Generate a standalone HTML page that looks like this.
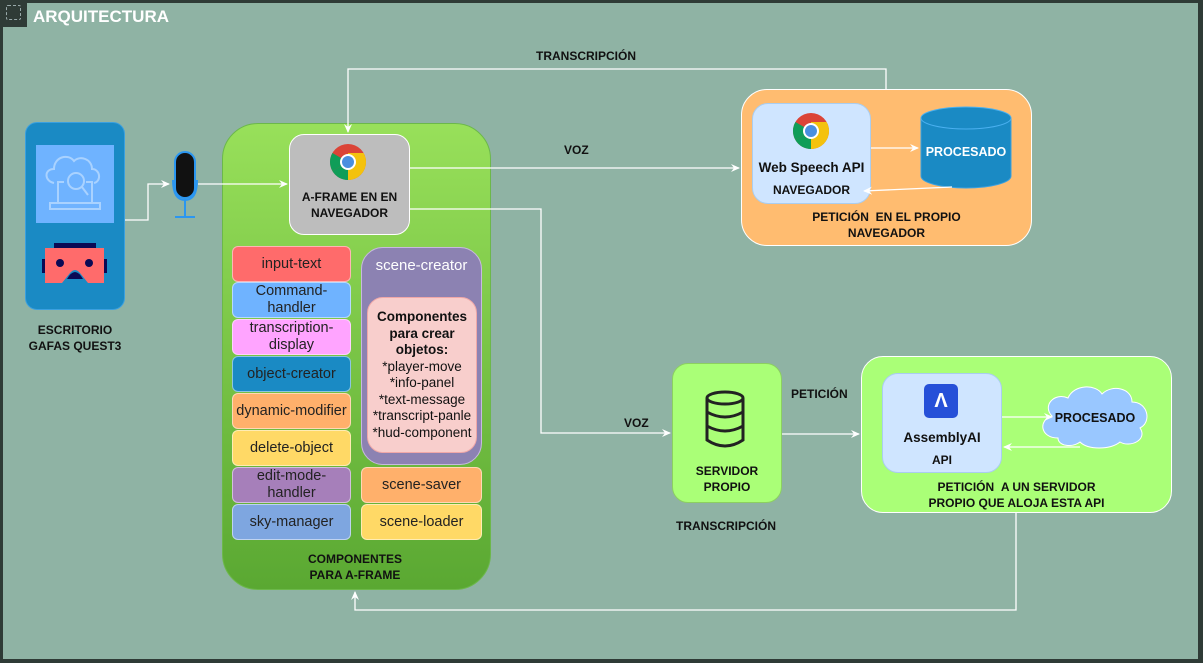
<!DOCTYPE html>
<html><head><meta charset="utf-8"><style>
body{margin:0;width:1203px;height:663px;overflow:hidden;background:#2f3b36;font-family:"Liberation Sans",sans-serif}
#f{position:absolute;left:3px;top:3px;width:1195px;height:656px;background:#8fb3a4}
.a{position:absolute;box-sizing:border-box}
.c{display:flex;align-items:center;justify-content:center;text-align:center}
.it{position:absolute;left:232px;width:119px;height:36px;border-radius:6px;border:1px solid rgba(255,255,255,.5);font-size:14.5px;color:#222;line-height:17px;display:flex;align-items:center;justify-content:center;text-align:center;box-sizing:border-box}
.b{font-weight:bold;font-size:12px;color:#111}
</style></head><body>
<div id="f"></div>
<div class="a" style="left:0;top:0;width:27px;height:27px;background:#2f3b36"></div>
<div class="a" style="left:6px;top:5px;width:15px;height:15px;border:1.5px dashed #9aa;border-radius:2px"></div>
<div class="a" style="left:33px;top:7px;color:#fff;font-weight:bold;font-size:17px">ARQUITECTURA</div>

<!-- left device -->
<div class="a" style="left:25px;top:122px;width:100px;height:188px;background:#1a8ac4;border-radius:12px;border:1px solid #3aa0e0"></div>
<div class="a" style="left:36px;top:145px;width:78px;height:78px;background:#6fb3ff"></div>
<svg class="a" style="left:36px;top:145px" width="78" height="78"><g fill="none" stroke="#a9d2ff" stroke-width="2"><path d="M18 38 C8 36 8 24 18 24 C18 12 32 8 38 16 C44 10 56 14 56 24 C64 24 66 36 58 38"/><path d="M22 58 V37 H28 M50 37 H56 V58"/><circle cx="40" cy="36" r="8"/><path d="M46 42 L52 50"/><rect x="14" y="58" width="50" height="6"/></g></svg>
<svg class="a" style="left:40px;top:243px" width="70" height="45"><rect x="14" y="0" width="42" height="6" fill="#0a0a55"/><rect x="2" y="16" width="4" height="14" fill="#0a0a55"/><rect x="63" y="16" width="4" height="14" fill="#0a0a55"/><path d="M5 5 H64 V40 H48 L40 30 Q35 24 30 30 L22 40 H5Z" fill="#ff6b6b"/><circle cx="20" cy="20" r="4" fill="#0a0a55"/><circle cx="49" cy="20" r="4" fill="#0a0a55"/><path d="M27 36 Q35 22 43 36Z" fill="#0a0a55"/></svg>
<div class="a b c" style="left:5px;top:322px;width:140px;line-height:16px">ESCRITORIO<br>GAFAS QUEST3</div>

<!-- mic -->
<svg class="a" style="left:168px;top:150px" width="34" height="70"><path d="M5 30 Q5 50 17 50 Q29 50 29 30" fill="none" stroke="#2b96f0" stroke-width="2"/><rect x="7" y="2" width="20" height="46" rx="10" fill="#111" stroke="#2b96f0" stroke-width="2"/><path d="M17 50 V66 M7 67 H27" stroke="#2b96f0" stroke-width="2"/></svg>

<!-- green -->
<div class="a" style="left:222px;top:123px;width:269px;height:467px;border-radius:36px;background:linear-gradient(#98e05a,#5aa832);border:1px solid #6cb84a"></div>
<div class="a c" style="left:289px;top:134px;width:121px;height:101px;background:#bdbdbd;border:1.5px solid #fff;border-radius:15px;flex-direction:column;padding-top:40px"><div class="b" style="line-height:16px">A-FRAME EN EN<br>NAVEGADOR</div></div>
<div class="it" style="top:246px;background:#ff6b6b">input-text</div>
<div class="it" style="top:282px;background:#6fb3ff">Command-<br>handler</div>
<div class="it" style="top:319px;background:#ffa4ff">transcription-<br>display</div>
<div class="it" style="top:356px;background:#1a8ac4">object-creator</div>
<div class="it" style="top:393px;background:#ffb06b">dynamic-modifier</div>
<div class="it" style="top:430px;background:#ffd966">delete-object</div>
<div class="it" style="top:467px;background:#a67fba">edit-mode-<br>handler</div>
<div class="it" style="top:504px;background:#7ea6e0">sky-manager</div>
<div class="a" style="left:361px;top:247px;width:121px;height:218px;background:#8c82b2;border-radius:22px;border:1px solid #c8b8e0"></div>
<div class="a" style="left:361px;top:257px;width:121px;text-align:center;color:#fff;font-size:15px">scene-creator</div>
<div class="a c" style="left:367px;top:297px;width:110px;height:156px;background:#f8cecc;border-radius:16px;border:1px solid #f0a8a8;font-size:13.5px;line-height:16.5px;color:#111;flex-direction:column"><b>Componentes<br>para crear<br>objetos:</b>*player-move<br>*info-panel<br>*text-message<br>*transcript-panle<br>*hud-component</div>
<div class="it" style="left:361px;width:121px;top:467px;background:#ffb06b">scene-saver</div>
<div class="it" style="left:361px;width:121px;top:504px;background:#ffd966">scene-loader</div>
<div class="a b c" style="left:285px;top:551px;width:140px;line-height:16px">COMPONENTES<br>PARA A-FRAME</div>

<!-- orange -->
<div class="a" style="left:741px;top:89px;width:291px;height:157px;background:#ffbc70;border:1.5px solid #fff;border-radius:26px"></div>
<div class="a" style="left:752px;top:103px;width:119px;height:101px;background:#cfe5ff;border:1px solid #a9cdf0;border-radius:16px"></div>
<div class="a" style="left:752px;top:160px;width:119px;text-align:center;font-weight:bold;font-size:13.5px;color:#111">Web Speech API</div>
<div class="a b" style="left:752px;top:183px;width:119px;text-align:center">NAVEGADOR</div>
<div class="a b c" style="left:741px;top:209px;width:291px;line-height:16px">PETICIÓN &nbsp;EN EL PROPIO<br>NAVEGADOR</div>
<svg class="a" style="left:920px;top:106px" width="93" height="84"><path d="M1 12 V70 A45 12 0 0 0 91 70 V12" fill="#1a8ac4" stroke="#3aa0e0"/><ellipse cx="46" cy="12" rx="45" ry="11" fill="#1a8ac4" stroke="#4ab0f0"/><text x="46" y="50" text-anchor="middle" font-family="Liberation Sans" font-weight="bold" font-size="12.5" fill="#fff">PROCESADO</text></svg>

<!-- server -->
<div class="a" style="left:672px;top:363px;width:110px;height:140px;background:#aaff77;border:1px solid #8cd060;border-radius:16px"></div>
<svg class="a" style="left:703px;top:390px" width="44" height="60"><g fill="none" stroke="#222" stroke-width="3"><ellipse cx="22" cy="8" rx="18" ry="6"/><path d="M4 8 V50 Q22 62 40 50 V8 M4 22 Q22 32 40 22 M4 36 Q22 46 40 36"/></g></svg>
<div class="a b c" style="left:672px;top:463px;width:110px;line-height:16px">SERVIDOR<br>PROPIO</div>
<div class="a b" style="left:676px;top:519px">TRANSCRIPCIÓN</div>
<div class="a b" style="left:791px;top:387px">PETICIÓN</div>

<!-- assembly -->
<div class="a" style="left:861px;top:356px;width:311px;height:157px;background:#aaff77;border:1.5px solid #fff;border-radius:22px"></div>
<div class="a" style="left:882px;top:373px;width:120px;height:100px;background:#cfe5ff;border:1px solid #a9cdf0;border-radius:16px"></div>
<div class="a c" style="left:924px;top:384px;width:34px;height:34px;background:#2650d8;border-radius:5px;color:#fff;font-weight:bold;font-size:20px">Λ</div>
<div class="a" style="left:882px;top:430px;width:120px;text-align:center;font-weight:bold;font-size:13.5px;color:#111">AssemblyAI</div>
<div class="a b" style="left:882px;top:453px;width:120px;text-align:center">API</div>
<svg class="a" style="left:1036px;top:382px" width="118" height="68"><path d="M22 56 C4 56 2 38 16 34 C6 24 18 10 32 16 C38 2 60 2 66 12 C76 2 96 6 96 20 C112 20 116 40 104 46 C112 58 94 66 84 60 C74 68 52 68 44 60 C36 66 22 64 22 56Z" fill="#99c7ff" stroke="#fff" stroke-width="1"/><text x="59" y="40" text-anchor="middle" font-family="Liberation Sans" font-weight="bold" font-size="12.5" fill="#111">PROCESADO</text></svg>
<div class="a b c" style="left:861px;top:479px;width:311px;line-height:16px">PETICIÓN &nbsp;A UN SERVIDOR<br>PROPIO QUE ALOJA ESTA API</div>

<div class="a b" style="left:536px;top:49px">TRANSCRIPCIÓN</div>
<div class="a b" style="left:564px;top:143px">VOZ</div>
<div class="a b" style="left:624px;top:416px">VOZ</div>

<svg class="a" style="left:0;top:0" width="1203" height="663">
<defs><marker id="m" markerWidth="10" markerHeight="10" refX="8" refY="5" orient="auto" markerUnits="userSpaceOnUse"><path d="M0 1 L9 5 L0 9 L3 5Z" fill="#fff"/></marker></defs>
<g fill="none" stroke="#fff" stroke-width="1.3">
<path d="M125 220 H148 V184 H169" marker-end="url(#m)"/>
<path d="M198 184 H287" marker-end="url(#m)"/>
<path d="M886 89 V69 H348 V132" marker-end="url(#m)"/>
<path d="M409 168 H739" marker-end="url(#m)"/>
<path d="M409 209 H541 V433 H670" marker-end="url(#m)"/>
<path d="M782 434 H859" marker-end="url(#m)"/>
<path d="M1016 513 V610 H355 V592" marker-end="url(#m)"/>
<path d="M871 148 H918" marker-end="url(#m)"/>
<path d="M952 187 L864 191" marker-end="url(#m)"/>
<path d="M1002 417 H1052" marker-end="url(#m)"/>
<path d="M1080 447 H1004" marker-end="url(#m)"/>
</g>
</svg>
<!-- chrome icons -->
<svg class="a" style="left:329px;top:143px" width="38" height="38"><circle cx="19" cy="19" r="18" fill="#db4437"/><path d="M19 19 L3.4 28 A18 18 0 0 0 19 37Z" fill="#0f9d58"/><path d="M19 19 L19 37 A18 18 0 0 0 34.6 10 L19 10Z" fill="#f4c20d"/><path d="M19 19 L3.4 28 A18 18 0 0 1 3.4 10Z" fill="#0f9d58"/><circle cx="19" cy="19" r="8" fill="#fff"/><circle cx="19" cy="19" r="6" fill="#4a8fe0"/></svg>
<svg class="a" style="left:792px;top:112px" width="38" height="38"><circle cx="19" cy="19" r="18" fill="#db4437"/><path d="M19 19 L3.4 28 A18 18 0 0 0 19 37Z" fill="#0f9d58"/><path d="M19 19 L19 37 A18 18 0 0 0 34.6 10 L19 10Z" fill="#f4c20d"/><path d="M19 19 L3.4 28 A18 18 0 0 1 3.4 10Z" fill="#0f9d58"/><circle cx="19" cy="19" r="8" fill="#fff"/><circle cx="19" cy="19" r="6" fill="#4a8fe0"/></svg>
</body></html>
